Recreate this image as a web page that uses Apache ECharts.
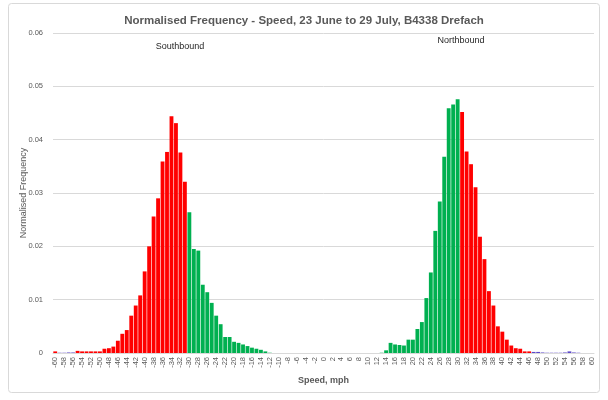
<!DOCTYPE html>
<html>
<head>
<meta charset="utf-8">
<script src="https://cdn.jsdelivr.net/npm/echarts@6/dist/echarts.min.js"></script>
<style>html,body{margin:0;padding:0;background:#fff}#c{width:608px;height:400px}</style>
</head>
<body>
<div id="c"></div>
<script>
// Categories: speed bins (negative = southbound, positive = northbound)
const speeds = [-60,-59,-58,-57,-56,-55,-54,-53,-52,-51,-50,-49,-48,-47,-46,-45,-44,-43,-42,-41,
  -40,-39,-38,-37,-36,-35,-34,-33,-32,-31,-30,-29,-28,-27,-26,-25,-24,-23,-22,-21,
  -20,-19,-18,-17,-16,-15,-14,-13,-12,-11,-10,-9,-8,-7,-6,-5,-4,-3,-2,-1,
  0,1,2,3,4,5,6,7,8,9,10,11,12,13,14,15,16,17,18,19,
  20,21,22,23,24,25,26,27,28,29,30,31,32,33,34,35,36,37,38,39,
  40,41,42,43,44,45,46,47,48,49,50,51,52,53,54,55,56,57,58,59,60];

// Southbound normalised frequency, -60 .. -12
const southFreq = [0.0003,0.00005,0.00005,0.0001,0.0001,0.0004,0.0003,0.0003,0.0003,0.0003,
  0.0003,0.0008,0.0009,0.0012,0.0023,0.0036,0.0043,0.0070,0.0089,0.0108,
  0.0153,0.0200,0.0256,0.0290,0.0359,0.0377,0.0444,0.0431,0.0376,0.0321,
  0.0264,0.0195,0.0192,0.0128,0.0114,0.0094,0.0070,0.0054,0.0030,0.0030,
  0.0021,0.0019,0.0016,0.0013,0.0010,0.0008,0.0006,0.0003,0.00005];
// Bins -11 .. 11
const middleFreq = [0,0,0,0,0,0,0,0,0,0,0,0,0,0,0,0,0,0,0,0,0,0,0];
// Northbound normalised frequency, 12 .. 60
const northFreq = [0,0.00005,0.0005,0.0019,0.0016,0.0015,0.0014,0.0025,0.0025,0.0045,
  0.0058,0.0103,0.0151,0.0229,0.0284,0.0368,0.0459,0.0466,0.0476,0.0452,
  0.0378,0.0354,0.0311,0.0218,0.0176,0.0116,0.0089,0.0050,0.0040,0.0025,
  0.0014,0.0009,0.0008,0.0003,0.0003,0.0002,0.0002,0.0001,0.00005,0.00005,
  0.00005,0.00005,0.0001,0.0003,0.0001,0.00005,0,0,0];

// Band of each bin: O = over 30 mph, U = up to 30 mph, T = far tail
const southBand = ['O','T','T','T','T','O','O','O','O','O','O','O','O','O','O','O','O','O','O','O',
  'O','O','O','O','O','O','O','O','O','O','U','U','U','U','U','U','U','U','U','U',
  'U','U','U','U','U','U','U','U','U'];
const middleBand = ['U','U','U','U','U','U','U','U','U','U','U','U','U','U','U','U','U','U','U','U','U','U','U'];
const northBand = ['U','U','U','U','U','U','U','U','U','U','U','U','U','U','U','U','U','U','U',
  'O','O','O','O','O','O','O','O','O','O','O','O','O','O','O','O',
  'T','T','T','T','T','T','T','T','T','T','T','T','T','T'];

const yTicks = [0, 0.01, 0.02, 0.03, 0.04, 0.05, 0.06];

const freq = southFreq.concat(middleFreq, northFreq);
const band = southBand.concat(middleBand, northBand);
const pick = b => freq.map((v, i) => band[i] === b ? v : '-');

const chart = echarts.init(document.getElementById('c'), null, {renderer: 'canvas'});
const font = 'Liberation Sans, Arial, sans-serif';
const barBase = {type: 'bar', stack: 'all', barCategoryGap: '14%', animation: false};
chart.setOption({
  backgroundColor: '#fff',
  title: {
    text: 'Normalised Frequency - Speed, 23 June to 29 July, B4338 Drefach',
    left: 'center', top: 10,
    textStyle: {color: '#595959', fontSize: 11.5, fontWeight: 'bold', fontFamily: font}
  },
  grid: {left: 53, right: 14, top: 33, bottom: 47, containLabel: false},
  xAxis: {
    type: 'category',
    data: speeds.map(String),
    name: 'Speed, mph', nameLocation: 'middle', nameGap: 22,
    nameTextStyle: {color: '#595959', fontSize: 9, fontWeight: 'bold', fontFamily: font, padding: [0, 0, 0, 0]},
    axisTick: {show: false},
    axisLine: {lineStyle: {color: '#d9d9d9'}},
    axisLabel: {interval: 1, rotate: 90, fontSize: 7.5, color: '#595959', fontFamily: font, margin: 4}
  },
  yAxis: {
    type: 'value', min: yTicks[0], max: yTicks[yTicks.length - 1], interval: 0.01,
    name: 'Normalised Frequency', nameLocation: 'middle', nameGap: 25, nameMoveOverlap: false,
    nameTextStyle: {color: '#595959', fontSize: 9, fontFamily: font},
    axisLine: {show: false}, axisTick: {show: false},
    splitLine: {lineStyle: {color: '#d9d9d9'}},
    axisLabel: {fontSize: 7.5, color: '#595959', fontFamily: font, margin: 10,
      formatter: v => (Math.round(v * 100) / 100).toString()}
  },
  graphic: [
    {type: 'rect', shape: {x: 8.5, y: 3.5, width: 591, height: 389, r: 3}, style: {fill: 'none', stroke: '#d9d9d9', lineWidth: 1}, silent: true},
    {type: 'text', x: 180, y: 47, style: {text: 'Southbound', fontSize: 9, fill: '#262626', fontFamily: font, textAlign: 'center', textVerticalAlign: 'middle'}},
    {type: 'text', x: 461, y: 41, style: {text: 'Northbound', fontSize: 9, fill: '#262626', fontFamily: font, textAlign: 'center', textVerticalAlign: 'middle'}}
  ],
  series: [
    Object.assign({name: 'Over 30 mph', data: pick('O'), itemStyle: {color: '#ff0000'}}, barBase),
    Object.assign({name: 'Up to 30 mph', data: pick('U'), itemStyle: {color: '#00b050'}}, barBase),
    Object.assign({name: 'Tail', data: pick('T'), itemStyle: {color: '#5b47c9'}}, barBase)
  ]
});
</script>
</body>
</html>
